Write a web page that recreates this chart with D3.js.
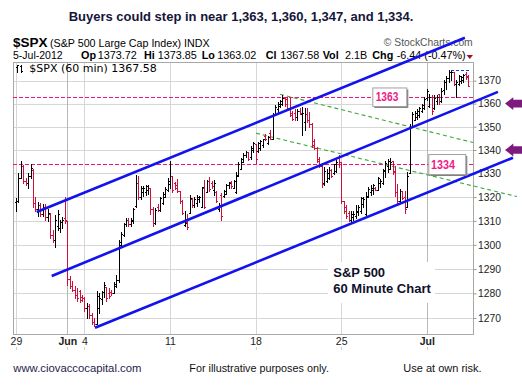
<!DOCTYPE html>
<html><head><meta charset="utf-8">
<script src="https://cdn.jsdelivr.net/npm/d3@7"></script>
<style>
html,body{margin:0;padding:0;background:#fff;}
svg{display:block;font-family:Arial,"Liberation Sans",sans-serif;}
</style></head><body>
<svg id="chart" width="522" height="392"></svg>
<script>
// ---------- DATA ----------
const dayLabels = ["May 29","May 30","May 31","Jun 1","Jun 4","Jun 5","Jun 6","Jun 7","Jun 8","Jun 11","Jun 12","Jun 13","Jun 14","Jun 15","Jun 18","Jun 19","Jun 20","Jun 21","Jun 22","Jun 25","Jun 26","Jun 27","Jun 28","Jun 29","Jul 2","Jul 3","Jul 5"];
const barsPerDay = [7,7,7,7,7,7,7,7,7,7,7,7,7,7,7,7,7,7,7,7,7,7,7,7,7,4,7];
const tickDays = ["May 29","Jun 1","Jun 4","Jun 11","Jun 18","Jun 25","Jul 2"];
const tickLabels = ["29","Jun","4","11","18","25","Jul"];
const monthTicks = ["Jun","Jul"];
const yTicks = [1270,1280,1290,1300,1310,1320,1330,1340,1350,1360,1370];

// hourly bars: [open, high, low, close]
const hourlyOHLC = [
// May 29
[1318,1319.5,1314,1318.5],[1318.5,1330,1318,1328],[1328,1335.5,1328,1333],[1333,1333.5,1326,1327],[1327,1328,1325,1326],[1326,1330,1324,1329],[1329,1334,1328,1332.5],
// May 30
[1331.5,1332,1316,1317.5],[1317.5,1320,1314,1315],[1315,1318,1312,1316.5],[1316.5,1317.5,1312,1313],[1313,1317,1312,1316],[1316,1317,1310.5,1311.5],[1311.5,1315,1310,1313.5],
// May 31
[1313,1313.5,1303,1304],[1304,1306,1301,1302],[1302,1312.5,1299,1310.5],[1308,1314.5,1306,1313],[1307,1310.5,1305.5,1309.5],[1309.5,1311.5,1307,1310.5],[1311,1320,1309,1310.3],
// Jun 1
[1309.9,1310,1283.5,1286],[1286,1287,1282,1283],[1283,1285,1281,1281.5],[1281.5,1283,1278,1279.5],[1279.5,1282,1277,1278],[1281,1281.5,1276.6,1277.5],[1278.5,1279.5,1277,1278],
// Jun 4
[1278.3,1278.5,1273,1274],[1274,1276,1270,1275],[1275,1275.5,1270,1271],[1271,1272,1267.5,1268.5],[1268.5,1270,1266.7,1267.5],[1267.5,1281,1267.5,1279],[1274,1280,1272,1278.2],
// Jun 5
[1277.8,1281,1275.7,1280.5],[1280.5,1284.7,1278.4,1283.5],[1282.5,1282.6,1277,1278],[1280,1282,1278,1279],[1280.5,1281.5,1279.5,1280],[1280,1284.7,1280,1284],[1283,1287.6,1282.6,1285.5],
// Jun 6
[1285.6,1302,1284.7,1301],[1300,1305.5,1299.4,1304.5],[1304,1309.3,1303.6,1308.5],[1308.5,1311.3,1307.7,1310.5],[1310.5,1311,1308,1308.5],[1308.5,1311.3,1307.7,1310.5],[1310,1315.4,1309,1315.1],
// Jun 7
[1316.2,1329.5,1316,1326],[1326,1328.8,1319,1320],[1320,1324.5,1319,1324],[1322,1324.5,1320.5,1324],[1322,1325,1321,1324.5],[1323,1325,1321.5,1324],[1324,1324,1312.7,1315],
// Jun 8
[1315,1316,1307.8,1309],[1309,1315.5,1308.5,1314.5],[1316,1317,1314,1314.5],[1314.5,1320,1314,1319.5],[1317.5,1322,1317,1321.5],[1320,1324.3,1320,1323.5],[1323,1328,1322.5,1327],
// Jun 11
[1325.7,1335.5,1324,1329],[1329,1329,1322,1323],[1326,1326.5,1323.5,1324],[1325,1327.5,1322,1322.5],[1322.5,1322.5,1317.7,1318.5],[1318.5,1318.6,1313,1313.5],[1308.3,1314.2,1307.7,1308.9],
// Jun 12
[1309.4,1313,1306.6,1307.5],[1313.5,1320.7,1313.5,1319.5],[1319,1319.5,1316,1316.5],[1316.5,1320,1316,1319],[1317.5,1320.7,1316.4,1320],[1319,1320.5,1318,1320],[1316,1324.3,1316,1324.2],
// Jun 13
[1324,1327.4,1315.4,1316],[1322,1327.4,1322,1327],[1327,1328.4,1322.6,1323.5],[1326,1327,1324,1324.5],[1323,1327.4,1320.7,1326],[1322,1322.5,1318,1318.5],[1315,1317.7,1314.2,1316.5],
// Jun 14
[1321,1321.7,1310.5,1312],[1320.5,1323,1320,1322.5],[1321.5,1325.5,1321.5,1325],[1325,1326.2,1324,1326],[1326.5,1327,1324,1324.5],[1324,1327.4,1324,1327],[1322,1330.6,1321.6,1329.1],
// Jun 15
[1329.2,1334.9,1329.1,1334],[1332,1336.4,1331.9,1336],[1335,1338.5,1334.9,1338],[1338,1339.5,1337,1339],[1339,1339,1335.6,1336],[1337,1341.5,1336,1341],[1340,1343.3,1339,1342.8],
// Jun 18
[1342.4,1342.5,1334.5,1336],[1339.5,1343.4,1339.2,1343],[1341,1344.1,1339.9,1344],[1342,1344.9,1341.3,1344.5],[1346,1347,1344.1,1344.5],[1343,1346.2,1342.5,1345.5],[1347.5,1348.5,1344.5,1344.8],
// Jun 19
[1344.8,1355.8,1344.8,1355],[1355,1359.4,1355,1358.5],[1357.5,1360.5,1356.5,1360],[1359,1361.5,1358.7,1361],[1360,1363.7,1359.4,1362.5],[1362.5,1363,1359,1360],[1362,1363,1358,1358],
// Jun 20
[1358,1362.3,1354.5,1355],[1356,1357,1353,1353.5],[1356,1357.5,1353,1354],[1354,1357.7,1353,1357],[1357,1358,1355.5,1356],[1355.5,1358.7,1346.5,1356],[1352,1358,1348.6,1355.7],
// Jun 21
[1355.4,1358.3,1352,1353],[1353,1356.5,1350,1351],[1351,1351.5,1341.3,1342],[1344,1344.9,1340.5,1341],[1341,1341.3,1334.7,1335.5],[1336,1337,1332.8,1333],[1333,1334.2,1324.4,1325.5],
// Jun 22
[1325.9,1332.8,1325.2,1331],[1327,1332,1326.3,1330],[1328,1332.8,1327.7,1331.5],[1331.5,1332,1328.5,1329],[1330,1334.2,1329.9,1334],[1331,1335.6,1330.8,1335],[1337,1337.8,1332.8,1335],
// Jun 25
[1334.9,1334.9,1317.5,1318.5],[1318.5,1318.5,1313.3,1314],[1316,1316.7,1311.3,1312],[1313.5,1314,1310,1310.5],[1310.5,1314,1309.3,1313],[1311.5,1314,1310.5,1313],[1312,1316.7,1311.3,1313.7],
// Jun 26
[1314.1,1316.7,1312.5,1316],[1314,1320.2,1313.3,1319.5],[1317,1320,1316,1319],[1313,1322,1312.5,1320.5],[1320,1324.2,1320,1323.5],[1322,1325,1320.8,1324],[1323,1325.7,1321.4,1325],
// Jun 27
[1324,1324.3,1322.9,1323],[1323,1328.3,1323,1328],[1326,1327.6,1324.3,1327],[1326,1331.8,1325.5,1331.5],[1331,1335.4,1328.3,1334.5],[1333,1336,1330.4,1335.5],[1332,1336.7,1331.8,1335],
// Jun 28
[1335.4,1335.4,1329.7,1330.5],[1331,1333,1320.6,1322],[1322,1325.5,1317.6,1318.5],[1318.5,1323.2,1317.6,1322.5],[1322.5,1322.5,1319,1319.5],[1320,1322.5,1313.3,1315],[1316,1330.4,1316,1329],
// Jun 29
[1330.1,1351.2,1330.1,1350],[1350,1356.3,1349.8,1355.5],[1353,1357,1352.7,1356],[1354,1357.8,1353.4,1357],[1355,1358.5,1354.2,1358],[1357,1360,1356.3,1359.5],[1358,1362.9,1357.8,1362.2],
// Jul 2
[1362.3,1366.4,1361.4,1365.5],[1359,1364.3,1358.5,1363],[1363,1363.6,1355.7,1357],[1358,1363.6,1357.8,1362.5],[1361,1363.6,1360,1363],[1364,1364.3,1360,1361],[1361,1367,1360.7,1365.5],
// Jul 3
[1365.75,1370.2,1364.3,1369.5],[1369.5,1372,1366.5,1371],[1371,1374.5,1369.4,1374],[1374,1374.8,1370.5,1374],
// Jul 5
[1373.72,1373.85,1368,1368.5],[1368.5,1370.2,1363.02,1369.5],[1368.5,1372.4,1368,1372],[1370,1372,1369,1371.5],[1370.5,1373.1,1369.4,1372.5],[1373,1373.8,1370.9,1371.5],[1372,1372.4,1367.5,1367.58]
];

const supportLevels = [1363, 1334];
const arrowLevels = [1360, 1340];
// trend lines: [barIndexStart, priceStart, barIndexEnd, priceEnd]
const channelLines = [[8.49,1313.7,183.6,1388.9],[14.63,1287.1,197.1,1365.1],[32.33,1266.0,203.26,1336.7]];
const greenLines = [[107.98,1364.05,186.9,1343.2],[98.17,1347.2,204.9,1320.2]];

const titleText = "Buyers could step in near 1,363, 1,360, 1,347, and 1,334.";
const quoteLabels = ["Op","Hi","Lo","Cl","Vol","Chg"];
const quoteValues = ["1373.72","1373.85","1363.02","1367.58","2.1B","-6.44 (-0.47%)"];
const lastClose = "1367.58";

// ---------- LAYOUT ----------
const svg = d3.select('#chart');
const P = {left:13, right:473, top:62, bottom:334};
const x = d3.scaleLinear().domain([-1.2, 186.9]).range([P.left, P.right]);
const y = d3.scaleLog().domain([1263.5, 1378.2]).range([P.bottom, P.top]);

const dayStart = {};
let acc = 0;
dayLabels.forEach((d,k)=>{ dayStart[d]=acc; acc+=barsPerDay[k]; });
const tickIdx = tickDays.map(d=>dayStart[d]);
const bars = hourlyOHLC.map((d,i)=>({i, o:d[0], h:d[1], l:d[2], c:d[3]}));

const UP = "#000", DOWN = "#d0103c", PINK = "#f0127e", BLUE = "#1212ee", GREEN = "#3aa83a", PURPLE = "#7e1a7e";
const ARIAL = 'Arial, "Liberation Sans", sans-serif';

svg.append('rect').attr('width',522).attr('height',392).attr('fill','#fff');

// ---- grid ----
const grid = svg.append('g').attr('shape-rendering','crispEdges');
grid.selectAll('line.h').data(yTicks).join('line')
  .attr('x1',P.left).attr('x2',P.right)
  .attr('y1',d=>Math.round(y(d))+0.5).attr('y2',d=>Math.round(y(d))+0.5)
  .attr('stroke','#d6d6d6');
grid.selectAll('line.v').data(tickIdx).join('line')
  .attr('x1',d=>Math.round(x(d))+0.5).attr('x2',d=>Math.round(x(d))+0.5)
  .attr('y1',P.top).attr('y2',P.bottom)
  .attr('stroke',(d,k)=>monthTicks.includes(tickLabels[k])? '#b8b8b8':'#d6d6d6');

svg.append('rect').attr('x',P.left+0.5).attr('y',P.top+0.5)
  .attr('width',P.right-P.left).attr('height',P.bottom-P.top)
  .attr('fill','none').attr('stroke','#a8a8a8').attr('shape-rendering','crispEdges');

// ---- axes ----
const yAxis = svg.append('g').attr('transform',`translate(${P.right+0.5},0)`)
  .call(d3.axisRight(y).tickValues(yTicks).tickSize(3).tickPadding(1.5).tickFormat(d3.format('d')));
yAxis.select('.domain').remove();
yAxis.selectAll('line').attr('stroke','#999');
yAxis.selectAll('text').style('font-size','10.3px').style('font-family',ARIAL).attr('fill','#222');

const xAxis = svg.append('g').attr('transform',`translate(0,${P.bottom})`)
  .call(d3.axisBottom(x).tickValues(tickIdx).tickSize(0).tickPadding(3.5).tickFormat((d,k)=>tickLabels[k]));
xAxis.select('.domain').remove();
xAxis.selectAll('text').style('font-size','10.5px').style('font-family',ARIAL).attr('fill','#222')
  .style('font-weight',(d,k)=>monthTicks.includes(tickLabels[k])?'bold':'normal');
svg.append('g').selectAll('line').data(tickIdx).join('line')
  .attr('x1',d=>Math.round(x(d))+0.5).attr('x2',d=>Math.round(x(d))+0.5)
  .attr('y1',347).attr('y2',350).attr('stroke','#ccc').attr('shape-rendering','crispEdges');

// ---- support dashed lines ----
svg.append('g').selectAll('line').data(supportLevels).join('line')
  .attr('x1',P.left).attr('x2',P.right)
  .attr('y1',d=>Math.round(y(d))+0.5).attr('y2',d=>Math.round(y(d))+0.5)
  .attr('stroke',PINK).attr('stroke-dasharray','4,2').attr('shape-rendering','crispEdges');

// ---- green dashed trend lines ----
svg.append('g').selectAll('line').data(greenLines).join('line')
  .attr('x1',d=>x(d[0])).attr('y1',d=>y(d[1])).attr('x2',d=>x(d[2])).attr('y2',d=>y(d[3]))
  .attr('stroke',GREEN).attr('stroke-width',1.1).attr('stroke-dasharray','4,3');

// ---- OHLC bars ----
const gBars = svg.append('g').attr('shape-rendering','crispEdges');
const bx = d=>Math.round(x(d.i));
const bar = gBars.selectAll('g').data(bars).join('g')
  .attr('stroke',d=>d.c>=d.o?UP:DOWN).attr('stroke-width',1);
bar.append('line').attr('x1',d=>bx(d)+0.5).attr('x2',d=>bx(d)+0.5)
  .attr('y1',d=>Math.round(y(d.h))).attr('y2',d=>Math.max(Math.round(y(d.l))+1, Math.round(y(d.h))+2));
bar.append('line').attr('x1',d=>bx(d)-1).attr('x2',d=>bx(d))
  .attr('y1',d=>Math.round(y(d.o))+0.5).attr('y2',d=>Math.round(y(d.o))+0.5);
bar.append('line').attr('x1',d=>bx(d)+1).attr('x2',d=>bx(d)+2)
  .attr('y1',d=>Math.round(y(d.c))+0.5).attr('y2',d=>Math.round(y(d.c))+0.5);

const hiBar = bars.reduce((a,b)=>b.h>a.h?b:a);
svg.append('line').attr('x1',x(hiBar.i)).attr('x2',x(bars.length-1)+2)
  .attr('y1',Math.round(y(hiBar.h))+0.5).attr('y2',Math.round(y(hiBar.h))+0.5)
  .attr('stroke','#2233ee').attr('stroke-dasharray','3,2').attr('shape-rendering','crispEdges');

// ---- header texts ----
svg.append('text').attr('x',241).attr('y',20.7).attr('text-anchor','middle')
  .style('font-size','13px').style('font-weight','bold').attr('fill','#15153a').text(titleText);
svg.append('text').attr('x',13).attr('y',46.5).style('font-size','13.5px').style('font-weight','bold').attr('fill','#000').text('$SPX');
svg.append('text').attr('x',50).attr('y',46.5).style('font-size','10.7px').attr('fill','#000').text('(S&P 500 Large Cap Index) INDX');
svg.append('text').attr('x',472.7).attr('y',46).attr('text-anchor','end').style('font-size','10.3px').attr('fill','#555').text('\u00A9 StockCharts.com');

svg.append('text').attr('x',13).attr('y',59.3).style('font-size','10.5px').attr('fill','#000').text('5-Jul-2012');
const labX = [81,144,201.7,265.8,322.7,372.3];
const valX = [97.7,157.7,217.3,280.2,345,396.7];
const q = svg.append('g').style('font-size','10.8px').attr('fill','#000');
q.selectAll('text.l').data(quoteLabels).join('text').attr('class','l')
  .attr('x',(d,k)=>labX[k]).attr('y',59.3).style('font-weight','bold').text(d=>d);
q.selectAll('text.v').data(quoteValues).join('text').attr('class','v')
  .attr('x',(d,k)=>valX[k]).attr('y',59.3).text(d=>d);
svg.append('path').attr('d','M466.5,55 L473,55 L469.75,59 Z').attr('fill','#a0102e');

// legend inside plot
svg.append('path').attr('d','M17.5,65V73 M16,67.5H17.5 M17.5,65.5H19 M21.5,64.5V72.5 M20,66H21.5 M21.5,71H23')
  .attr('stroke','#000').attr('fill','none').attr('shape-rendering','crispEdges');
svg.append('text').attr('x',29.3).attr('y',72.3).style('font-size','11px')
  .style('font-family','"DejaVu Sans", Verdana, sans-serif').attr('fill','#000').text('$SPX (60 min) ' + lastClose);

// ---- caption box ----
svg.append('rect').attr('x',328).attr('y',262).attr('width',107).attr('height',41).attr('fill','#fff');
svg.append('text').attr('x',333.3).attr('y',277.3).style('font-size','13px').style('font-weight','bold').attr('fill','#10102a').text('S&P 500');
svg.append('text').attr('x',333.3).attr('y',293.3).style('font-size','13px').style('font-weight','bold').attr('fill','#10102a').text('60 Minute Chart');

// ---- blue channel lines ----
svg.append('g').selectAll('line').data(channelLines).join('line')
  .attr('x1',d=>x(d[0])).attr('y1',d=>y(d[1])).attr('x2',d=>x(d[2])).attr('y2',d=>y(d[3]))
  .attr('stroke',BLUE).attr('stroke-width',2.6);

// ---- level label boxes ----
const boxSpec = [{lvl:supportLevels[0], bx:372.3, w:34, h:18.5, tx:375.7, tw:22.7},
                 {lvl:supportLevels[1], bx:428.3, w:37, h:20, tx:431, tw:24}];
const gb = svg.append('g').selectAll('g').data(boxSpec).join('g');
gb.append('rect').attr('x',d=>d.bx+2).attr('y',d=>y(d.lvl)-d.h/2+2).attr('width',d=>d.w).attr('height',d=>d.h).attr('fill','#808080');
gb.append('rect').attr('x',d=>d.bx+0.5).attr('y',d=>y(d.lvl)-d.h/2+0.5).attr('width',d=>d.w).attr('height',d=>d.h)
  .attr('fill','#fff').attr('stroke','#a0a0a0');
gb.append('text').attr('x',d=>d.tx).attr('y',d=>y(d.lvl)+4.5).style('font-size','12px').style('font-weight','bold')
  .attr('fill','#f0198a').attr('textLength',d=>d.tw).attr('lengthAdjust','spacingAndGlyphs').text(d=>d.lvl);

// ---- purple arrows ----
svg.append('g').selectAll('path').data(arrowLevels).join('path')
  .attr('d',d=>{const c=y(d); return `M505,${c} L513.3,${c-6.4} L513.3,${c-3.8} L522,${c-3.8} L522,${c+3.8} L513.3,${c+3.8} L513.3,${c+6.4} Z`;})
  .attr('fill',PURPLE);

// ---- footer ----
svg.append('text').attr('x',13.3).attr('y',371.7).style('font-size','11.3px').attr('fill','#1e1e4e').text('www.ciovaccocapital.com');
svg.append('text').attr('x',189.3).attr('y',371.7).style('font-size','10.8px').attr('fill','#111').text('For illustrative purposes only.');
svg.append('text').attr('x',403.3).attr('y',371.7).style('font-size','11px').attr('fill','#111').text('Use at own risk.');
</script>
</body></html>
